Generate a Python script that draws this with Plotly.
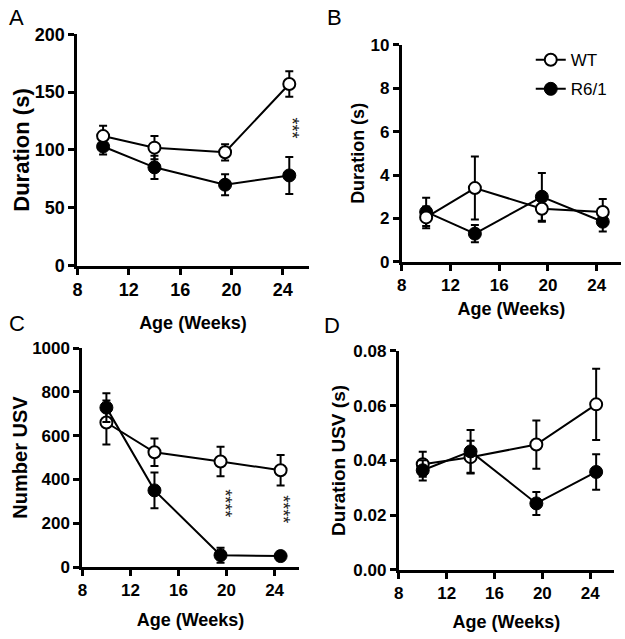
import plotly.graph_objects as go

# ---------------- data ----------------
age = [10, 14, 19.5, 24.5]

a_wt = [112, 102, 98, 157]
a_wt_err = [9, 10, 7, 11]
a_r6 = [103, 85, 70, 78]
a_r6_err = [7, 10, 9, 16]

b_wt = [2.05, 3.4, 2.45, 2.3]
b_wt_err = [0.5, 1.45, 0.6, 0.6]
b_r6 = [2.3, 1.3, 3.0, 1.85]
b_r6_err = [0.65, 0.4, 1.1, 0.45]

c_wt = [660, 524, 482, 442]
c_wt_err = [100, 63, 67, 70]
c_r6 = [728, 350, 54, 50]
c_r6_err = [66, 82, 34, 14]

d_wt = [0.0386, 0.0412, 0.0458, 0.0605]
d_wt_err = [0.0046, 0.006, 0.0088, 0.013]
d_r6 = [0.0364, 0.0433, 0.0243, 0.0358]
d_r6_err = [0.0037, 0.0078, 0.0042, 0.0065]

panel_letters = ["A", "B", "C", "D"]
series_names = ["WT", "R6/1"]
x_ticks = [8, 12, 16, 20, 24]

FONT = "Liberation Sans, Arial, sans-serif"
W, H = 625, 639


def px_dom_x(a, b):
    return [a / W, b / W]


def px_dom_y(top, bottom):
    return [1 - bottom / H, 1 - top / H]


panels = [
    # name, wt, wt_err, r6, r6_err, yrange, yticks, ytitle, xdomain, ydomain, order, fmt,
    # tick size, ytitle size, y standoff, x standoff
    ("1", a_wt, a_wt_err, a_r6, a_r6_err, [0, 200], [0, 50, 100, 150, 200], "Duration (s)",
     px_dom_x(73, 306), px_dom_y(25, 264), "r6first", None, 18, 22, 0, 18),
    ("2", b_wt, b_wt_err, b_r6, b_r6_err, [0, 10], [0, 2, 4, 6, 8, 10], "Duration (s)",
     px_dom_x(400, 621), px_dom_y(36, 260), "r6first", None, 17, 18, 2, 9),
    ("3", c_wt, c_wt_err, c_r6, c_r6_err, [0, 1000], [0, 200, 400, 600, 800, 1000], "Number USV",
     px_dom_x(78, 296), px_dom_y(349, 575), "wtfirst", None, 17, 20, 0, 14),
    ("4", d_wt, d_wt_err, d_r6, d_r6_err, [0, 0.08], [0, 0.02, 0.04, 0.06, 0.08], "Duration USV (s)",
     px_dom_x(397, 614), px_dom_y(352, 578), "wtfirst", ".2f", 17, 19, 3, 14),
]

fig = go.Figure()
layout = dict(
    width=W, height=H, margin=dict(l=0, r=0, t=0, b=0),
    paper_bgcolor="white", plot_bgcolor="white",
    font=dict(family=FONT, color="black"),
    showlegend=True,
    legend=dict(x=0.848, y=0.948, xanchor="left", yanchor="top",
                font=dict(family=FONT, size=17, color="black"),
                bgcolor="rgba(0,0,0,0)", itemwidth=30, tracegroupgap=4),
)

for (n, wt, wte, r6, r6e, yr, yt, ytitle, xd, yd, order, tfmt, tsz, ytsz, ysto, xsto) in panels:
    xa = "x" if n == "1" else "x" + n
    ya = "y" if n == "1" else "y" + n
    show = (n == "2")

    wt_tr = go.Scatter(
        x=age, y=wt, xaxis=xa, yaxis=ya, name=series_names[0], legendgroup="wt",
        mode="lines+markers", showlegend=show, legendrank=1,
        line=dict(color="black", width=2),
        marker=dict(symbol="circle", size=12, color="white",
                    line=dict(color="black", width=2)),
        error_y=dict(type="data", array=wte, color="black", thickness=2, width=4),
    )
    r6_tr = go.Scatter(
        x=age, y=r6, xaxis=xa, yaxis=ya, name=series_names[1], legendgroup="r6",
        mode="lines+markers", showlegend=show, legendrank=2,
        line=dict(color="black", width=2),
        marker=dict(symbol="circle", size=13, color="black",
                    line=dict(color="black", width=1)),
        error_y=dict(type="data", array=r6e, color="black", thickness=2, width=4),
    )
    if order == "r6first":
        fig.add_trace(r6_tr)
        fig.add_trace(wt_tr)
    else:
        fig.add_trace(wt_tr)
        fig.add_trace(r6_tr)

    xkey = "xaxis" if n == "1" else "xaxis" + n
    ykey = "yaxis" if n == "1" else "yaxis" + n
    layout[xkey] = dict(
        domain=xd, anchor=ya, range=[8, 26], tickvals=x_ticks,
        showgrid=False, zeroline=False, showline=True, linecolor="black", linewidth=3,
        ticks="outside", ticklen=6, tickwidth=3, tickcolor="black",
        tickfont=dict(family=FONT, size=tsz, weight="bold", color="black"),
        title=dict(text="Age (Weeks)", standoff=xsto,
                   font=dict(family=FONT, size=18, weight="bold", color="black")),
        fixedrange=True,
    )
    ydict = dict(
        domain=yd, anchor=xa, range=yr, tickvals=yt,
        showgrid=False, zeroline=False, showline=True, linecolor="black", linewidth=3,
        ticks="outside", ticklen=6, tickwidth=3, tickcolor="black",
        tickfont=dict(family=FONT, size=tsz, weight="bold", color="black"),
        title=dict(text=ytitle, standoff=ysto,
                   font=dict(family=FONT, size=ytsz, weight="bold", color="black")),
        fixedrange=True,
    )
    if tfmt:
        ydict["tickformat"] = tfmt
    layout[ykey] = ydict

# panel letters
letter_pos = [(2, 23), (323, 23), (2, 339), (320, 341)]
annotations = []
for letter, (lx, ly) in zip(panel_letters, letter_pos):
    annotations.append(dict(
        text=letter, x=lx / W, y=1 - ly / H, xref="paper", yref="paper",
        xanchor="left", yanchor="bottom", showarrow=False,
        font=dict(family=FONT, size=22, color="black")))

# significance marks
sig = [
    ("x", "y", 24.75, 119, "***"),
    ("x3", "y3", 19.85, 292, "****"),
    ("x3", "y3", 24.75, 266, "****"),
]
for xr, yr_, sx, sy, txt in sig:
    annotations.append(dict(
        text=txt, x=sx, y=sy, xref=xr, yref=yr_, showarrow=False, textangle=90,
        font=dict(family=FONT, size=18, color="#222222")))

layout["annotations"] = annotations
fig.update_layout(**layout)
fig.write_html(
    "out.html",
    config={"displayModeBar": False},
    post_script="document.body.style.margin='0';document.body.style.padding='0';document.body.style.overflow='hidden';",
)
